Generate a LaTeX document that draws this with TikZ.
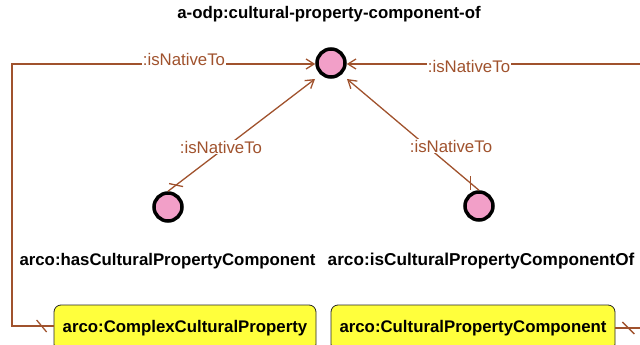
\documentclass[tikz,border=0pt]{standalone}
\usepackage{fontspec}
\setmainfont{Liberation Sans}
\usetikzlibrary{arrows.meta,calc}
\definecolor{edgec}{HTML}{A0522D}
\definecolor{circf}{HTML}{F29FC8}
\definecolor{boxf}{HTML}{FFFF3C}
\begin{document}
\begin{tikzpicture}[x=1pt,y=-1pt,
  bigtext/.style={font=\fontsize{16.8}{20}\selectfont\bfseries},
  ind/.style={circle,draw=black,fill=circf,line width=3.5pt,minimum size=28pt,inner sep=0pt},
  cls/.style={draw=black!85,fill=boxf,rounded corners=7pt,line width=0.8pt,bigtext,inner sep=0pt},
  edge/.style={draw=edgec,line width=1.3pt,-{Straight Barb[length=8pt,width=10pt]}},
  plain/.style={draw=edgec,line width=1.3pt},
  elab/.style={font=\fontsize{16.8}{20}\selectfont,text=edgec,fill=white,inner sep=1pt},
]
\useasboundingbox (0,0) rectangle (640,345);
\node[bigtext] (title) at (329,14) {a-odp:cultural-property-component-of};
\node[ind] (top) at (331,63) {};
\node[ind] (l) at (168,207) {};
\node[ind] (r) at (479,206) {};
\node[bigtext,anchor=west] (ll) at (16,261) {arco:hasCulturalPropertyComponent};
\node[bigtext,anchor=east,font=\fontsize{17.2}{20}\selectfont\bfseries] (rl) at (638,261) {arco:isCulturalPropertyComponentOf};
\node[cls,minimum width=262pt,minimum height=46pt] (bl) at (185,328) {arco:ComplexCulturalProperty};
\node[cls,minimum width=284pt,minimum height=46pt] (br) at (473,328) {arco:CulturalPropertyComponent};
\coordinate (c1) at (12,326);
\coordinate (c2) at (12,64);
\coordinate (e1) at (640,64);
\coordinate (e2) at (640,328);
\coordinate (topsw) at ($(top)+(-16,16)$);
\coordinate (topse) at ($(top)+(16,16)$);
% left loop
\draw[edge] (bl.west |- c1) -- (c1) -- (c2) -- (top.west |- c2);
\node[elab] (lab1) at (184,59) {:isNativeTo};
\draw[plain] ($(bl.west |- c1)+(-17,-6)$) -- ($(bl.west |- c1)+(-7,6)$);
% right top
\draw[edge] (e1) -- (top.east |- e1);
\node[elab] (lab2) at (469,66) {:isNativeTo};
% right bottom
\draw[plain] (br.east) -- (e2);
\draw[plain] ($(br.east)+(7,-6)$) -- ($(br.east)+(19,6)$);
% diagonals
\draw[edge] (l.north) -- coordinate[pos=0.055] (tk1) (topsw);
\node[elab] (lab3) at (221,147) {:isNativeTo};
\draw[plain] ($(tk1)+(-7,-1.5)$) -- ($(tk1)+(7,1.5)$);
\draw[edge] (r.north) -- coordinate[pos=0.065] (tk2) (topse);
\node[elab] (lab4) at (451,146) {:isNativeTo};
\draw[plain] ($(tk2)+(0,-7)$) -- ($(tk2)+(0,7)$);
\end{tikzpicture}
\end{document}
